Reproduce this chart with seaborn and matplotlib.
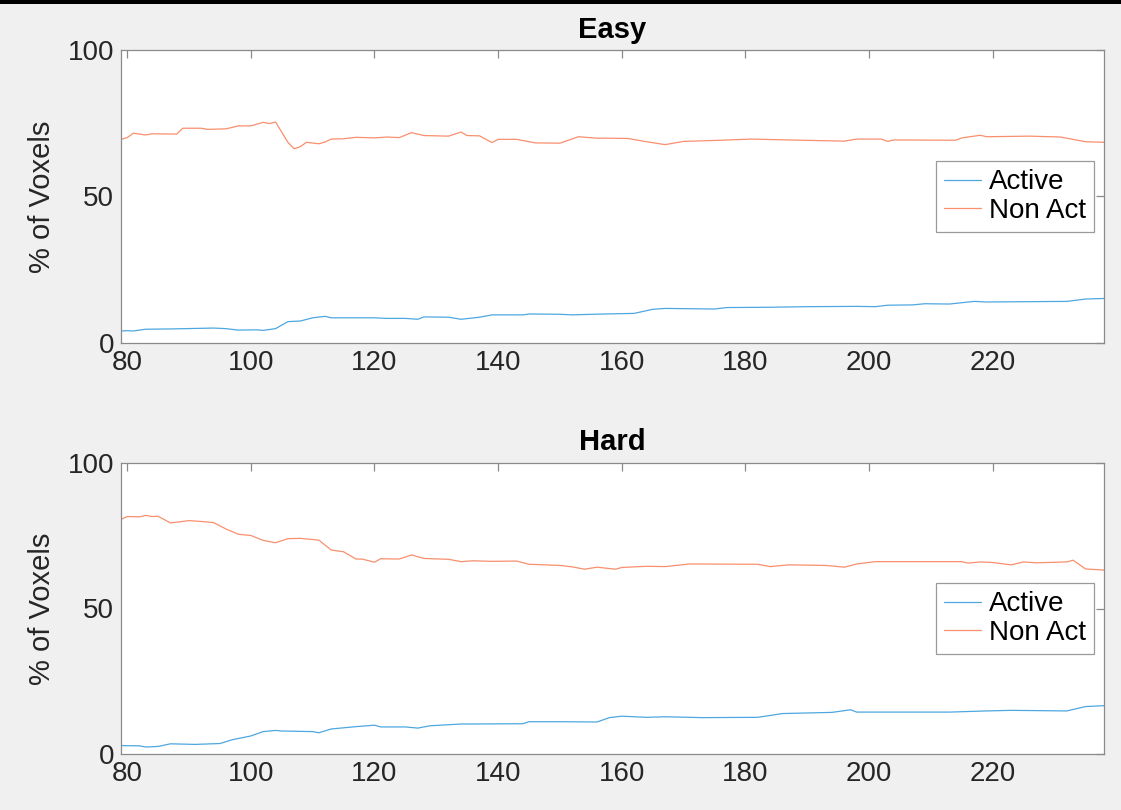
import matplotlib
matplotlib.use("Agg")
import matplotlib.pyplot as plt
import seaborn as sns
import pandas as pd
from matplotlib.patches import Rectangle

# ---------------- data ----------------
easy_act_x = [79, 80, 81, 83, 87, 94, 96, 98, 101, 102, 104, 106, 108, 110, 112, 113, 120, 122, 125, 127,
              128, 132, 134, 137, 139, 144, 145, 150, 152, 157, 162, 165, 167, 175, 177, 184, 190, 198,
              201, 203, 207, 209, 213, 217, 219, 232, 235, 238]
easy_act = [4.1, 4.2, 4.1, 4.7, 4.8, 5.1, 4.9, 4.4, 4.5, 4.3, 4.9, 7.3, 7.5, 8.6, 9.1, 8.6, 8.6, 8.4, 8.4, 8.1,
            8.9, 8.8, 8.1, 8.8, 9.6, 9.6, 9.9, 9.8, 9.6, 9.9, 10.1, 11.5, 11.8, 11.6, 12.1, 12.2, 12.4, 12.5,
            12.4, 12.9, 13.0, 13.4, 13.3, 14.2, 14.0, 14.2, 15.0, 15.2]

easy_non_x = [79, 80, 81, 83, 84, 88, 89, 92, 93, 96, 98, 100, 102, 103, 104, 106, 107, 108, 109, 111,
              112, 113, 115, 117, 120, 122, 124, 126, 128, 132, 134, 135, 137, 139, 140, 143, 146, 150,
              153, 156, 158, 161, 164, 167, 170, 176, 181, 189, 196, 198, 202, 203, 204, 214, 215, 218,
              219, 226, 231, 235, 238]
easy_non = [69.5, 70.1, 71.6, 71.0, 71.4, 71.3, 73.3, 73.3, 72.9, 73.1, 74.1, 74.1, 75.3, 74.9, 75.4, 68.5,
            66.3, 67.0, 68.5, 68.0, 68.6, 69.6, 69.7, 70.2, 70.0, 70.3, 70.1, 71.8, 70.8, 70.6, 72.0, 70.8,
            70.7, 68.4, 69.5, 69.5, 68.3, 68.2, 70.4, 69.9, 69.9, 69.8, 68.7, 67.7, 68.8, 69.2, 69.6, 69.2,
            68.9, 69.6, 69.6, 68.8, 69.3, 69.2, 70.0, 70.9, 70.4, 70.6, 70.3, 68.7, 68.5]

hard_act_x = [79, 82, 83, 85, 87, 91, 95, 97, 100, 102, 104, 105, 110, 111, 113, 117, 120, 121, 125, 127,
              129, 134, 144, 145, 150, 156, 158, 160, 164, 167, 173, 182, 186, 194, 197, 198, 213, 219,
              223, 232, 235, 238]
hard_act = [2.9, 2.8, 2.4, 2.6, 3.5, 3.3, 3.6, 4.9, 6.2, 7.7, 8.1, 7.9, 7.7, 7.3, 8.6, 9.4, 9.9, 9.3, 9.3, 8.9,
            9.7, 10.3, 10.4, 11.1, 11.1, 11.0, 12.5, 13.0, 12.6, 12.8, 12.5, 12.6, 13.9, 14.3, 15.2, 14.4,
            14.4, 14.8, 15.0, 14.8, 16.3, 16.6]

hard_non_x = [79, 80, 82, 83, 84, 85, 87, 90, 92, 94, 96, 98, 100, 102, 104, 106, 108, 111, 113, 115, 117,
              118, 120, 121, 124, 126, 128, 132, 134, 136, 139, 143, 145, 150, 152, 154, 156, 159, 160,
              164, 167, 171, 182, 184, 187, 193, 196, 198, 201, 215, 216, 218, 220, 223, 225, 227, 232,
              233, 235, 238]
hard_non = [80.6, 81.6, 81.5, 82.0, 81.6, 81.7, 79.4, 80.2, 79.9, 79.5, 77.3, 75.5, 75.1, 73.4, 72.6, 74.0,
            74.1, 73.5, 70.1, 69.5, 67.0, 67.0, 65.9, 67.1, 67.0, 68.4, 67.2, 66.9, 66.1, 66.4, 66.2, 66.3,
            65.2, 64.8, 64.3, 63.5, 64.2, 63.5, 64.1, 64.5, 64.4, 65.3, 65.2, 64.4, 65.0, 64.8, 64.2, 65.3,
            66.1, 66.1, 65.6, 66.0, 65.8, 65.0, 66.0, 65.7, 66.0, 66.6, 63.6, 63.2]

titles = ["Easy", "Hard"]
series_labels = ["Active", "Non Act"]
x_ticks = [80, 100, 120, 140, 160, 180, 200, 220]
y_ticks = [0, 50, 100]
y_label = "% of Voxels"

# ---------------- style ----------------
sns.set_theme(style="white")
plt.rcParams["font.family"] = ["Liberation Sans", "DejaVu Sans"]

bg = "#f0f0f0"
c_act = "#4ea7e0"
c_non = "#f98f6e"
spine_c = "#8a8a8a"
text_c = "#262626"

fig = plt.figure(figsize=(11.21, 8.10), dpi=100, facecolor=bg)

positions = [
    [121 / 1121, 1 - 343 / 810, (1104 - 121) / 1121, (343 - 50) / 810],
    [121 / 1121, 1 - 754 / 810, (1104 - 121) / 1121, (754 - 463) / 810],
]
legend_anchor = [(0.990, 0.621), (0.990, 0.588)]

datasets = [
    (easy_act_x, easy_act, easy_non_x, easy_non),
    (hard_act_x, hard_act, hard_non_x, hard_non),
]

for i, (ax_x, ay, nx, ny) in enumerate(datasets):
    ax = fig.add_axes(positions[i])
    ax.set_facecolor("white")
    df_a = pd.DataFrame({"x": ax_x, "y": ay})
    df_n = pd.DataFrame({"x": nx, "y": ny})
    sns.lineplot(data=df_a, x="x", y="y", ax=ax, color=c_act, lw=0.9, label=series_labels[0],
                 estimator=None)
    sns.lineplot(data=df_n, x="x", y="y", ax=ax, color=c_non, lw=0.9, label=series_labels[1],
                 estimator=None)
    ax.set_xlim(79, 238)
    ax.set_ylim(0, 100)
    ax.set_xticks(x_ticks)
    ax.set_yticks(y_ticks)
    ax.set_xlabel("")
    ax.set_ylabel(y_label, fontsize=21, color=text_c, labelpad=8)
    ax.set_title(titles[i], fontsize=21, fontweight="bold", color="black", pad=9)
    for s in ax.spines.values():
        s.set_color(spine_c)
        s.set_linewidth(0.9)
        s.set_visible(True)
    ax.tick_params(direction="in", length=6, width=0.9, color=spine_c, top=True, right=True,
                   labelsize=20, labelcolor=text_c, pad=5)
    leg = ax.legend(loc="upper right", bbox_to_anchor=legend_anchor[i], borderaxespad=0,
                    fontsize=20, frameon=True, fancybox=False, framealpha=1,
                    handlelength=1.3, handletextpad=0.3, borderpad=0.3, labelspacing=0.1)
    leg.get_frame().set_edgecolor("#9a9a9a")
    leg.get_frame().set_linewidth(0.9)
    for t in leg.get_texts():
        t.set_color("black")

# black strip at top of the figure
fig.add_artist(Rectangle((0, 1 - 4 / 810), 1, 4 / 810, transform=fig.transFigure,
                         facecolor="black", edgecolor="none"))

fig.savefig("out.png", dpi=100, facecolor=bg)
